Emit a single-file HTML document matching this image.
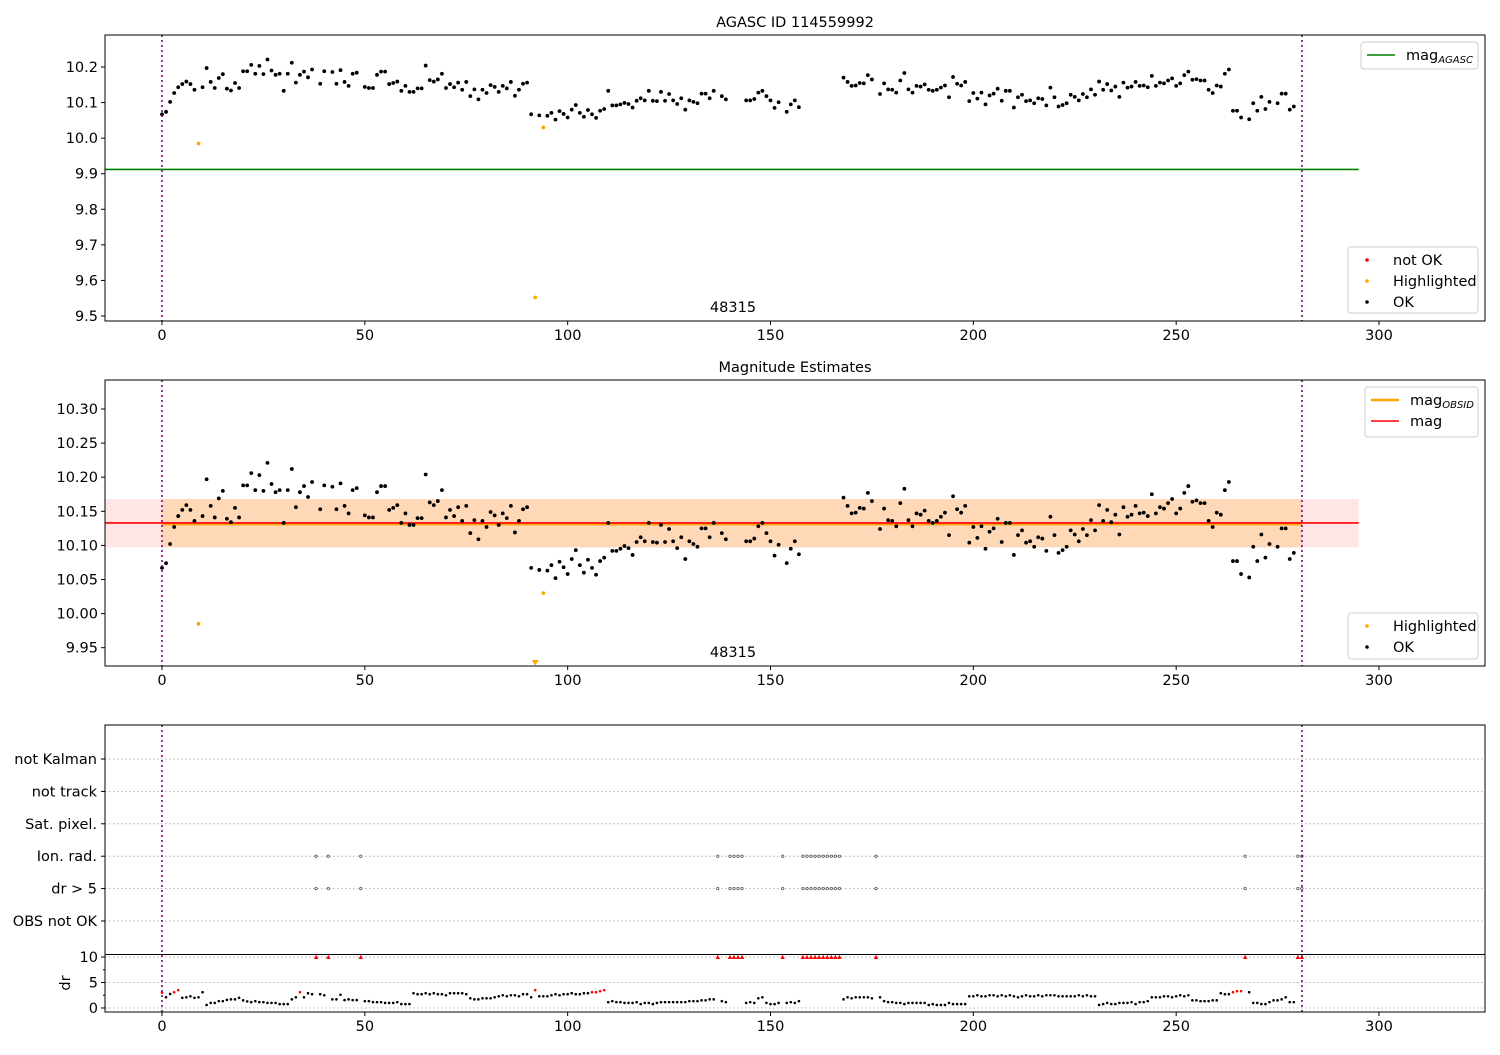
<!DOCTYPE html>
<html><head><meta charset="utf-8"><style>
body{margin:0;background:#fff}
svg text{font-family:"DejaVu Sans","Liberation Sans",sans-serif;font-size:14.5px;fill:#000}
</style></head><body>
<svg id="c" width="1500" height="1050" xmlns="http://www.w3.org/2000/svg"></svg>
<script>
// ---- data ----
const mags = [10.067,10.074,10.102,10.127,10.143,10.152,10.159,10.152,10.136,null,
10.143,10.197,10.158,10.141,10.169,10.180,10.139,10.134,10.155,10.141,
10.188,10.188,10.206,10.181,10.203,10.180,10.221,10.190,10.178,10.181,
10.133,10.181,10.212,10.156,10.178,10.187,10.171,10.193,null,10.153,
10.188,null,10.186,10.153,10.191,10.158,10.147,10.181,10.184,null,
10.144,10.141,10.141,10.178,10.187,10.187,10.152,10.155,10.159,10.133,
10.147,10.130,10.130,10.140,10.140,10.204,10.163,10.159,10.165,10.181,
10.141,10.152,10.143,10.156,10.136,10.158,10.118,10.137,10.109,10.136,
10.127,10.149,10.144,10.130,10.147,10.140,10.158,10.119,10.136,10.153,
10.156,10.067,null,10.064,null,10.063,10.071,10.052,10.076,10.068,
10.058,10.080,10.093,10.071,10.060,10.079,10.067,10.057,10.077,10.082,
10.133,10.092,10.092,10.095,10.099,10.096,10.086,10.105,10.112,10.106,
10.133,10.105,10.104,10.130,10.105,10.124,10.106,10.096,10.112,10.080,
10.106,10.102,10.098,10.125,10.125,10.112,10.133,null,10.118,10.109,
null,null,null,null,10.106,10.106,10.110,10.128,10.133,10.118,
10.106,10.085,10.101,null,10.074,10.095,10.106,10.087,null,null,
null,null,null,null,null,null,null,null,10.170,10.158,
10.147,10.148,10.155,10.154,10.177,10.165,null,10.124,10.154,10.137,
10.136,10.128,10.162,10.183,10.137,10.128,10.147,10.145,10.151,10.136,
10.133,10.136,10.142,10.148,10.115,10.172,10.153,10.148,10.158,10.104,
10.127,10.111,10.128,10.095,10.120,10.125,10.139,10.105,10.133,10.133,
10.086,10.115,10.122,10.104,10.106,10.098,10.112,10.110,10.092,10.142,
10.115,10.089,10.093,10.098,10.122,10.116,10.106,10.124,10.115,10.137,
10.122,10.159,10.136,10.152,10.134,10.145,10.116,10.156,10.142,10.145,
10.158,10.147,10.148,10.143,10.175,10.147,10.156,10.154,10.162,10.168,
10.147,10.154,10.177,10.187,10.164,10.166,10.162,10.162,10.136,10.127,
10.148,10.145,10.181,10.193,10.077,10.077,10.058,null,10.053,10.098,
10.077,10.116,10.082,10.102,null,10.098,10.125,10.125,10.080,10.089,
null,null];
const hlIdx = [9,92,94];
const hlMag = [9.985,9.552,10.030];
const notOk = [38,41,49,137,140,141,142,143,153,158,159,160,161,162,163,164,165,166,167,176,267,280,281];
const drRedIdx = [0,3,4,34,92,106,107,108,109,264,265,266];
const dr = [3.0,2.1,2.75,3.1,3.5,2.0,2.1,2.3,2.0,2.1,
3.1,0.6,1.0,1.0,1.35,1.35,1.6,1.7,1.7,2.0,
1.5,1.3,1.15,1.35,1.15,1.15,1.0,1.0,1.0,0.77,
0.77,0.77,1.7,2.1,3.1,2.1,2.9,2.7,10,2.7,
2.5,10,1.7,1.7,2.6,1.55,1.7,1.55,1.55,10,
1.35,1.35,1.15,1.15,1.15,1.0,1.0,1.0,1.15,0.77,
0.77,0.77,2.9,2.7,2.7,2.9,2.7,2.9,2.7,2.7,
2.5,2.9,2.9,2.9,2.9,2.7,1.9,1.7,1.7,1.9,
1.9,1.9,2.1,2.3,2.5,2.3,2.5,2.5,2.3,2.7,
2.7,2.1,3.5,2.3,2.3,2.3,2.5,2.7,2.5,2.7,
2.7,2.9,2.7,2.7,2.9,2.9,3.1,3.1,3.3,3.5,
1.15,1.35,1.15,1.15,1.0,1.0,1.0,1.15,0.77,1.0,
1.0,0.77,1.0,1.15,1.15,1.15,1.15,1.15,1.15,1.15,
1.35,1.35,1.35,1.5,1.5,1.7,1.7,10,1.35,1.15,
10,10,10,10,1.0,1.15,1.0,1.9,2.1,1.0,
0.77,0.77,1.0,10,1.0,1.15,1.0,1.35,10,10,
10,10,10,10,10,10,10,10,1.7,2.1,
1.9,2.1,2.1,2.1,2.1,1.9,10,2.1,1.35,1.15,
1.15,1.0,1.0,0.77,1.0,1.0,1.0,1.0,1.0,0.6,
0.77,0.6,0.6,0.6,1.0,0.77,0.77,0.77,0.77,2.3,
2.3,2.5,2.3,2.3,2.5,2.5,2.3,2.5,2.3,2.5,
2.3,2.1,2.3,2.5,2.3,2.3,2.5,2.3,2.5,2.5,
2.5,2.3,2.3,2.3,2.3,2.3,2.5,2.3,2.5,2.3,
2.3,0.6,0.77,1.0,0.77,0.77,1.0,1.0,1.0,1.15,
0.77,1.15,1.15,1.35,2.1,2.1,2.1,2.3,2.3,2.1,
2.3,2.5,2.3,2.5,1.5,1.5,1.35,1.35,1.35,1.5,
1.5,2.9,2.7,2.7,3.1,3.3,3.3,10,3.1,1.0,
1.0,0.77,0.77,1.15,1.5,1.5,1.7,2.1,1.15,1.15,
10,10];
const xTicks = [0,50,100,150,200,250,300];
const topTicks = [10.2,10.1,10.0,9.9,9.8,9.7,9.6,9.5];
const midTicks = [10.30,10.25,10.20,10.15,10.10,10.05,10.00,9.95];
const rowLabels = ["not Kalman","not track","Sat. pixel.","Ion. rad.","dr > 5","OBS not OK"];
const drTicks = [0,5,10];
const magAgasc = 9.912, magObs = 10.131, magMean = 10.133, magLo = 10.097, magHi = 10.168;

// ---- drawing ----
const NS="http://www.w3.org/2000/svg", svg=document.getElementById('c');
function el(tag,attrs,parent){const e=document.createElementNS(NS,tag);for(const k in attrs)e.setAttribute(k,attrs[k]);(parent||svg).appendChild(e);return e;}
const L=105,R=1485;
const X=v=>162+(v)*(1379-162)/300;
const Y1=m=>67+(10.2-m)*355.7;
const Y2=m=>409+(10.30-m)*682;
const YR=i=>759+i*32.4;
const YD=d=>1008-d*5.1;

function frame(top,bot,name){
  const r=el('rect',{x:L,y:top,width:R-L,height:bot-top,fill:'none',stroke:'#000','stroke-width':1});
  
}
function xaxis(bot,name){
  const g=el('g',{});
  xTicks.forEach(t=>{el('line',{x1:X(t),x2:X(t),y1:bot,y2:bot+4,stroke:'#000'},g);
    const tx=el('text',{x:X(t),y:bot+19,'text-anchor':'middle'},g);tx.textContent=t;});
}
function yaxis(ticks,Y,fmt,name){
  const g=el('g',{});
  ticks.forEach(t=>{el('line',{x1:L-4,x2:L,y1:Y(t),y2:Y(t),stroke:'#000'},g);
    const tx=el('text',{x:L-7,y:Y(t)+5,'text-anchor':'end'},g);tx.textContent=t.toFixed(fmt);});
}
function vlines(top,bot){
  [0,281].forEach(v=>{const l=el('line',{x1:X(v),x2:X(v),y1:top,y2:bot,stroke:'#800080','stroke-width':1.6,'stroke-dasharray':'2,3'});
  });
}
function title(txt,y,name){const t=el('text',{x:795,y:y,'text-anchor':'middle','font-size':'16px'});t.textContent=txt;
  }

// Panel 1
title('AGASC ID 114559992',27,'top-title');
const g1=el('g',{});
const gl=el('line',{x1:X(-14),x2:X(295),y1:Y1(magAgasc),y2:Y1(magAgasc),stroke:'green','stroke-width':1.6},g1);

mags.forEach((m,i)=>{if(m===null)return;const c=el('circle',{cx:X(i),cy:Y1(m),r:1.9,fill:'#000'},g1);
  });
hlIdx.forEach((i,k)=>{const c=el('circle',{cx:X(i),cy:Y1(hlMag[k]),r:1.9,fill:'orange'},g1);
  });
vlines(35,321);
frame(35,321,'top-axes');xaxis(321,'top-x-axis');yaxis(topTicks,Y1,1,'top-y-axis');
let t=el('text',{x:733,y:312,'text-anchor':'middle'});t.textContent='48315';

// Panel 2
title('Magnitude Estimates',372,'middle-title');
const g2=el('g',{'clip-path':'url(#cp2)'});
const cl2=el('clipPath',{id:'cp2'});el('rect',{x:L,y:380,width:R-L,height:286},cl2);
let b=el('rect',{x:X(-14),y:Y2(magHi),width:X(295)-X(-14),height:Y2(magLo)-Y2(magHi),fill:'rgba(255,0,0,0.1)'},g2);

b=el('rect',{x:X(0),y:Y2(magHi),width:X(281)-X(0),height:Y2(magLo)-Y2(magHi),fill:'rgba(255,165,0,0.2)'},g2);

let ln=el('line',{x1:X(0),x2:X(281),y1:Y2(magObs),y2:Y2(magObs),stroke:'orange','stroke-width':2.2},g2);

ln=el('line',{x1:X(-14),x2:X(295),y1:Y2(magMean),y2:Y2(magMean),stroke:'red','stroke-width':1.6},g2);

mags.forEach((m,i)=>{if(m===null)return;const c=el('circle',{cx:X(i),cy:Y2(m),r:1.9,fill:'#000'},g2);
  });
hlIdx.forEach((i,k)=>{const m=hlMag[k];
  if(Y2(m)>664){const x=X(i);const p=el('path',{d:`M${x-3.5},660 L${x+3.5},660 L${x},665.5 Z`,fill:'orange'},g2);
    }
  else{const c=el('circle',{cx:X(i),cy:Y2(m),r:1.9,fill:'orange'},g2);
    }});
vlines(380,666);
frame(380,666,'middle-axes');xaxis(666,'middle-x-axis');yaxis(midTicks,Y2,2,'middle-y-axis');
t=el('text',{x:733,y:657,'text-anchor':'middle'});t.textContent='48315';

// Panel 3
const g3=el('g',{});
rowLabels.forEach((lab,i)=>{el('line',{x1:L,x2:R,y1:YR(i),y2:YR(i),stroke:'#b0b0b0','stroke-dasharray':'1.5,2.5'},g3);
  el('line',{x1:L-4,x2:L,y1:YR(i),y2:YR(i),stroke:'#000'},g3);
  const tx=el('text',{x:L-8,y:YR(i)+5,'text-anchor':'end'},g3);tx.textContent=lab;
  });
notOk.forEach(i=>{[3,4].forEach(r=>{const c=el('circle',{cx:X(i),cy:YR(r),r:1.2,fill:'#fff',stroke:'#555','stroke-width':0.8},g3);
  });});
drTicks.forEach(d=>{el('line',{x1:L,x2:R,y1:YD(d),y2:YD(d),stroke:'#b0b0b0','stroke-dasharray':'1.5,2.5'},g3);
  el('line',{x1:L-4,x2:L,y1:YD(d),y2:YD(d),stroke:'#000'},g3);
  const tx=el('text',{x:L-7,y:YD(d)+5,'text-anchor':'end'},g3);tx.textContent=d;});
[2.5,7.5].forEach(d=>el('line',{x1:L-2,x2:L,y1:YD(d),y2:YD(d),stroke:'#000'},g3));
dr.forEach((d,i)=>{
  if(d>=10){const x=X(i),y=YD(10);const p=el('path',{d:`M${x-2.2},${y+2} L${x+2.2},${y+2} L${x},${y-2.2} Z`,fill:'red'},g3);
    return;}
  const red=drRedIdx.includes(i);
  const c=el('circle',{cx:X(i),cy:YD(d),r:1.3,fill:red?'red':'#000'},g3);
  });
el('line',{x1:L,x2:R,y1:954.5,y2:954.5,stroke:'#000'},g3);
vlines(725,1012);
frame(725,1012,'flags-axes');xaxis(1012,'bottom-x-axis');
t=el('text',{x:70,y:983,'text-anchor':'middle',transform:'rotate(-90 70 983)','font-size':'15px'});t.textContent='dr';


// Legends
function legend(x,y,w,h,items,name){
  const g=el('g',{});
  el('rect',{x:x,y:y,width:w,height:h,rx:3,fill:'#fff','fill-opacity':0.85,stroke:'#ccc'},g);
  items.forEach((it,k)=>{const cy=y+13+k*21;
    if(it.type==='line')el('line',{x1:x+6,x2:x+34,y1:cy,y2:cy,stroke:it.c,'stroke-width':it.w||1.6},g);
    else el('circle',{cx:x+19,cy:cy,r:1.8,fill:it.c},g);
    const tx=el('text',{x:x+45,y:cy+5},g);tx.innerHTML=it.t;
    });
}
legend(1361,42,117,27,[{type:'line',c:'green',t:'mag<tspan font-size="10px" font-style="italic" dy="3">AGASC</tspan>'}],'top-legend-lines');
legend(1348,247,130,66,[{c:'red',t:'not OK'},{c:'orange',t:'Highlighted'},{c:'#000',t:'OK'}],'top-legend-points');
legend(1365,387,113,50,[{type:'line',c:'orange',w:2.5,t:'mag<tspan font-size="10px" font-style="italic" dy="3">OBSID</tspan>'},{type:'line',c:'red',t:'mag'}],'middle-legend-lines');
legend(1348,613,130,46,[{c:'orange',t:'Highlighted'},{c:'#000',t:'OK'}],'middle-legend-points');
</script>
</body></html>
